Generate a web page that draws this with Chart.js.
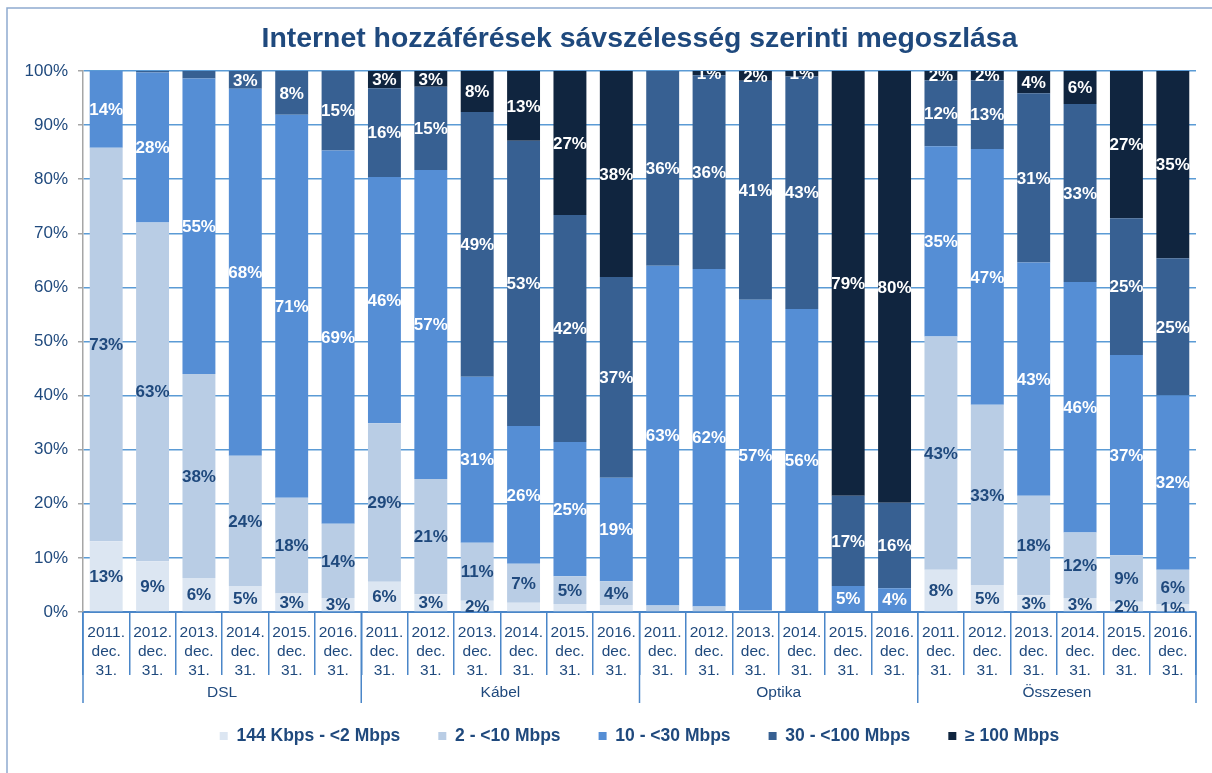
<!DOCTYPE html>
<html>
<head>
<meta charset="utf-8">
<script src="https://cdn.jsdelivr.net/npm/chart.js@4.4.1/dist/chart.umd.min.js"></script>
<style>
  html, body { margin: 0; padding: 0; background: #fff; }
  #wrap { position: relative; width: 1212px; height: 773px; }
</style>
</head>
<body>
<div id="wrap"><canvas id="bwChart" width="1212" height="773"></canvas></div>
<script>
// categories
var years = ["2011.", "2012.", "2013.", "2014.", "2015.", "2016."];
var groups = ["DSL", "Kábel", "Optika", "Összesen"];
var seriesNames = ["144 Kbps - <2 Mbps", "2 - <10 Mbps", "10 - <30 Mbps", "30 - <100 Mbps", "\u2265 100 Mbps"];

// values in %, order: DSL x6, Kábel x6, Optika x6, Összesen x6
var s144k = [13.1, 9.4, 6.3, 4.8, 3.4, 2.6,   5.6, 3.3, 2.1, 1.7, 1.5, 1.3,   0, 0, 0, 0, 0, 0,   7.8, 5.0, 3.1, 2.6, 1.9, 1.4];
var s2to10 = [72.7, 62.6, 37.7, 24.1, 17.7, 13.7,   29.3, 21.3, 10.7, 7.2, 5.1, 4.4,   1.2, 1.0, 0.3, 0, 0, 0,   43.1, 33.3, 18.4, 12.1, 8.6, 6.4];
var s10to30 = [14.2, 27.7, 54.6, 67.8, 70.8, 69.0,   45.5, 57.1, 30.7, 25.5, 24.8, 19.1,   62.8, 62.4, 57.4, 56.0, 4.8, 4.4,   35.2, 47.3, 43.1, 46.3, 37.0, 32.2];
var s30to100 = [0, 0.3, 1.4, 3.3, 8.1, 14.7,   16.4, 15.4, 48.9, 52.7, 42.0, 37.1,   36.0, 35.8, 40.5, 43.0, 16.7, 15.8,   12.2, 12.7, 31.3, 32.9, 25.3, 25.4];
var s100 = [0, 0, 0, 0, 0, 0,   3.2, 2.9, 7.6, 12.9, 26.6, 38.1,   0, 0.8, 1.8, 1.0, 78.5, 79.8,   1.7, 1.7, 4.1, 6.1, 27.2, 34.6];

// labels removed in the original: [series, bar]
var hiddenLabels = [[0, 9], [0, 10], [0, 11], [1, 12], [1, 13], [3, 2]];

var colors = ["#dce6f2", "#b9cde5", "#558ed5", "#376092", "#10253f"];
var labelColors = ["#1f497d", "#1f497d", "#ffffff", "#ffffff", "#ffffff"];
var txt = "#1f497d";
var axisBlue = "#4a86c8";

var labels = [];
groups.forEach(function (g) {
    years.forEach(function (y) { labels.push([y, "dec.", "31."]); });
});

Chart.defaults.font.family = '"Liberation Sans", Arial, sans-serif';

var segLabels = {
    id: 'segLabels',
    afterDatasetsDraw: function (chart) {
        var ctx = chart.ctx, a = chart.chartArea;
        ctx.save();
        ctx.beginPath();
        ctx.rect(a.left, a.top, a.right - a.left, a.bottom - a.top);
        ctx.clip();
        ctx.font = 'bold 17px "Liberation Sans", Arial, sans-serif';
        ctx.textAlign = 'center';
        ctx.textBaseline = 'middle';
        chart.data.datasets.forEach(function (ds, di) {
            chart.getDatasetMeta(di).data.forEach(function (bar, i) {
                var v = ds.data[i];
                if (v < 0.5) return;
                if (hiddenLabels.some(function (h) { return h[0] === di && h[1] === i; })) return;
                ctx.fillStyle = labelColors[di];
                ctx.fillText(Math.round(v) + '%', bar.x, (bar.y + bar.base) / 2 + 1);
            });
        });
        ctx.restore();
    }
};

var groupAxis = {
    id: 'groupAxis',
    beforeDraw: function (chart) {
        var ctx = chart.ctx;
        ctx.save();
        ctx.fillStyle = '#fff';
        ctx.fillRect(0, 0, chart.width, chart.height);
        ctx.strokeStyle = '#8eaad0';
        ctx.lineWidth = 1.5;
        ctx.beginPath();
        ctx.moveTo(7, chart.height);
        ctx.lineTo(7, 8);
        ctx.lineTo(chart.width, 8);
        ctx.stroke();
        ctx.restore();
    },
    afterDraw: function (chart) {
        var ctx = chart.ctx, x = chart.scales.x;
        var step = (x.right - x.left) / labels.length;
        ctx.save();
        ctx.strokeStyle = axisBlue;
        ctx.lineWidth = 1.5;
        for (var k = 0; k <= groups.length; k++) {
            var px = x.left + k * years.length * step;
            ctx.beginPath();
            ctx.moveTo(px, x.top);
            ctx.lineTo(px, 703);
            ctx.stroke();
        }
        ctx.fillStyle = txt;
        ctx.font = '15.5px "Liberation Sans", Arial, sans-serif';
        ctx.textAlign = 'center';
        ctx.textBaseline = 'middle';
        groups.forEach(function (g, k) {
            ctx.fillText(g, x.left + (k + 0.5) * years.length * step, 693);
        });
        ctx.restore();
    }
};

var ctxB = document.getElementById("bwChart").getContext('2d');
var chartData = {
    type: 'bar',
    data: {
        labels: labels,
        datasets: [s144k, s2to10, s10to30, s30to100, s100].map(function (d, i) {
            return {
                label: seriesNames[i],
                data: d,
                backgroundColor: colors[i],
                borderWidth: 0,
                barPercentage: 0.71,
                categoryPercentage: 1
            };
        })
    },
    options: {
        responsive: false,
        animation: false,
        layout: { padding: { left: 10, right: 16, top: 0, bottom: 18.25 } },
        plugins: {
            title: {
                display: true,
                fullSize: false,
                text: 'Internet hozzáférések sávszélesség szerinti megoszlása',
                color: txt,
                font: { size: 28.4, weight: 'bold' },
                padding: { top: 22, bottom: 14.9 }
            },
            legend: {
                position: 'bottom',
                fullSize: false,
                labels: {
                    color: txt,
                    font: { size: 17.5, weight: 'bold' },
                    boxWidth: 8,
                    boxHeight: 8,
                    padding: 38
                }
            },
            tooltip: { enabled: false }
        },
        scales: {
            x: {
                stacked: true,
                grid: { drawOnChartArea: false, drawTicks: true, tickLength: 63, color: axisBlue, lineWidth: 1.5, offset: true },
                border: { color: axisBlue, width: 2 },
                ticks: {
                    color: txt,
                    padding: -51.5,
                    maxRotation: 0,
                    autoSkip: false,
                    font: { size: 15.5, lineHeight: 1.23 }
                },
                afterFit: function (s) { s.height = 77.25; }
            },
            y: {
                stacked: true,
                min: 0,
                max: 100,
                grid: { color: '#5b9bd5', lineWidth: 1.5, tickLength: 5, tickColor: '#a6a6a6' },
                border: { color: '#a6a6a6', width: 1.5 },
                ticks: {
                    stepSize: 10,
                    padding: 10,
                    color: txt,
                    font: { size: 17 },
                    callback: function (v) { return v + '%'; }
                },
                afterFit: function (s) { s.width = 73; }
            }
        }
    },
    plugins: [segLabels, groupAxis]
};

var bwChart = new Chart(ctxB, chartData);
</script>
</body>
</html>
